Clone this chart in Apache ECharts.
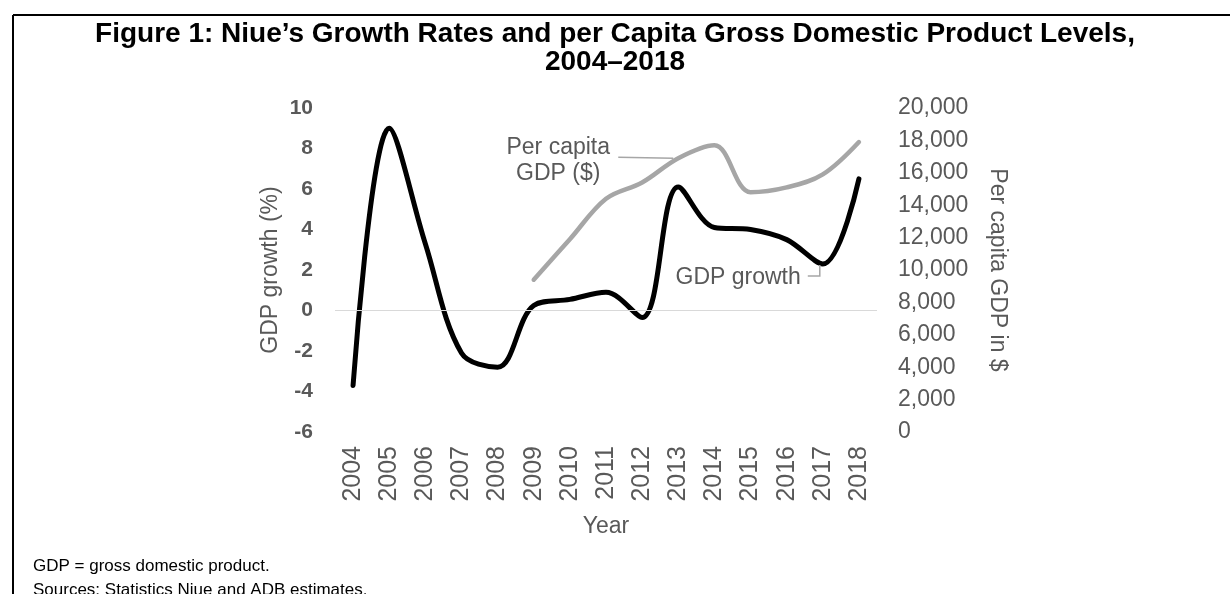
<!DOCTYPE html>
<html>
<head>
<meta charset="utf-8">
<script src="https://cdn.jsdelivr.net/npm/echarts@6/dist/echarts.min.js"></script>
<style>
  html, body { margin: 0; padding: 0; background: #fff; }
  #chart { width: 1230px; height: 594px; }
</style>
</head>
<body>
<div id="chart"></div>
<script>
// data
const years = ['2004', '2005', '2006', '2007', '2008', '2009', '2010', '2011',
               '2012', '2013', '2014', '2015', '2016', '2017', '2018'];
// GDP growth, %
const gdpGrowth = [-3.7, 9.0, 3.3, -2.1, -2.8, 0.25, 0.55, 0.9, -0.35, 6.1, 4.1, 4.0, 3.5, 2.3, 6.5];
// per capita GDP, $ (no data before 2009)
const perCapita = [null, null, null, null, null, 9400, 11900, 14400, 15400, 16900, 17700, 14800, 15100, 15900, 17900];

const FONT = '"Liberation Sans", Arial, sans-serif';
const GREY_TEXT = '#595959';
const GREY_LINE = '#a6a6a6';

// callouts sit next to these points
const perCapitaLabelIdx = 9;  // 2013
const growthLabelIdx = 13;    // 2017

const chart = echarts.init(document.getElementById('chart'));

const option = {
  backgroundColor: '#fff',
  animation: false,
  textStyle: { fontFamily: FONT },
  title: [
    {
      text: 'Figure 1: Niue\u2019s Growth Rates and per Capita Gross Domestic Product Levels,',
      left: 'center',
      top: 20,
      padding: 0,
      textStyle: { fontFamily: FONT, fontSize: 28, fontWeight: 'bold', color: '#000' }
    },
    {
      text: '2004\u20132018',
      left: 'center',
      top: 48,
      padding: 0,
      textStyle: { fontFamily: FONT, fontSize: 28, fontWeight: 'bold', color: '#000' }
    },
    {
      text: 'GDP = gross domestic product.\nSources: Statistics Niue and ADB estimates.',
      left: 28,
      top: 549,
      textStyle: { fontFamily: FONT, fontSize: 17, fontWeight: 'normal', color: '#000', lineHeight: 24 }
    }
  ],
  graphic: [
    { id: 'frameTop', type: 'line', shape: { x1: 13, y1: 15, x2: 1230, y2: 15 }, style: { stroke: '#000', lineWidth: 2 } },
    { id: 'frameLeft', type: 'line', shape: { x1: 13, y1: 15, x2: 13, y2: 594 }, style: { stroke: '#000', lineWidth: 2 } }
  ],
  grid: { left: 335, right: 353, top: 108, bottom: 162 },
  xAxis: {
    type: 'category',
    data: years,
    boundaryGap: true,
    axisLine: { show: false },
    axisTick: { show: false },
    axisLabel: { rotate: 90, margin: 14, interval: 0, fontSize: 25, color: GREY_TEXT, fontFamily: FONT },
    name: 'Year',
    nameLocation: 'middle',
    nameGap: 83,
    nameTextStyle: { fontSize: 23, color: GREY_TEXT, fontFamily: FONT }
  },
  yAxis: [
    {
      type: 'value',
      min: -6,
      max: 10,
      interval: 2,
      position: 'left',
      splitLine: { show: false },
      axisLine: { show: false },
      axisTick: { show: false },
      axisLabel: { fontSize: 21, fontWeight: 'bold', color: GREY_TEXT, margin: 22, fontFamily: FONT },
      name: 'GDP growth (%)',
      nameLocation: 'middle',
      nameRotate: 90,
      nameGap: 53,
      nameTextStyle: { fontSize: 23, color: GREY_TEXT, fontFamily: FONT }
    },
    {
      type: 'value',
      min: 0,
      max: 20000,
      interval: 2000,
      position: 'right',
      splitLine: { show: false },
      axisLine: { show: false },
      axisTick: { show: false },
      axisLabel: {
        fontSize: 23, color: GREY_TEXT, margin: 21, fontFamily: FONT,
        formatter: v => v.toLocaleString('en-US')
      },
      name: 'Per capita GDP in $',
      nameLocation: 'middle',
      nameRotate: -90,
      nameGap: 109,
      nameTextStyle: { fontSize: 23, color: GREY_TEXT, fontFamily: FONT }
    }
  ],
  series: [
    {
      name: 'Per capita GDP ($)',
      type: 'line',
      yAxisIndex: 1,
      smooth: 0.35,
      showSymbol: false,
      lineStyle: { color: GREY_LINE, width: 4.5, cap: 'round', join: 'round' },
      itemStyle: { color: GREY_LINE },
      data: perCapita,
      z: 2
    },
    {
      name: 'GDP growth',
      type: 'line',
      yAxisIndex: 0,
      smooth: 0.35,
      showSymbol: false,
      lineStyle: { color: '#000', width: 5, cap: 'round', join: 'round' },
      itemStyle: { color: '#000' },
      data: gdpGrowth,
      markLine: {
        silent: true,
        symbol: 'none',
        label: { show: false },
        lineStyle: { color: '#d9d9d9', width: 1, type: 'solid' },
        data: [{ yAxis: 0 }]
      },
      z: 3
    }
  ]
};

chart.setOption(option);

// callout labels with leader lines, anchored to the data points through the axes
function placeCallouts() {
  const p = chart.convertToPixel({ xAxisIndex: 0, yAxisIndex: 1 },
    [years[perCapitaLabelIdx], perCapita[perCapitaLabelIdx]]);
  const g = chart.convertToPixel({ xAxisIndex: 0, yAxisIndex: 0 },
    [years[growthLabelIdx], gdpGrowth[growthLabelIdx]]);
  chart.setOption({
    graphic: [
      {
        id: 'pcLabel', type: 'text', x: p[0] - 120, y: p[1] + 2, z: 10,
        style: {
          text: 'Per capita\nGDP ($)', align: 'center', verticalAlign: 'middle',
          font: '23px ' + FONT, lineHeight: 26, fill: GREY_TEXT
        }
      },
      {
        id: 'pcLeader', type: 'polyline', z: 10,
        shape: { points: [[p[0] - 60, p[1] - 1], [p[0] - 5, p[1]]] },
        style: { stroke: GREY_LINE, lineWidth: 1.5, fill: null }
      },
      {
        id: 'gLabel', type: 'text', x: g[0] - 22, y: g[1] + 14, z: 10,
        style: {
          text: 'GDP growth', align: 'right', verticalAlign: 'middle',
          font: '23px ' + FONT, fill: GREY_TEXT
        }
      },
      {
        id: 'gLeader', type: 'polyline', z: 10,
        shape: { points: [[g[0] - 15, g[1] + 12], [g[0] - 3, g[1] + 12], [g[0] - 3, g[1] + 1]] },
        style: { stroke: GREY_LINE, lineWidth: 1.5, fill: null }
      }
    ]
  });
}
placeCallouts();

window.addEventListener('resize', () => { chart.resize(); placeCallouts(); });
</script>
</body>
</html>
